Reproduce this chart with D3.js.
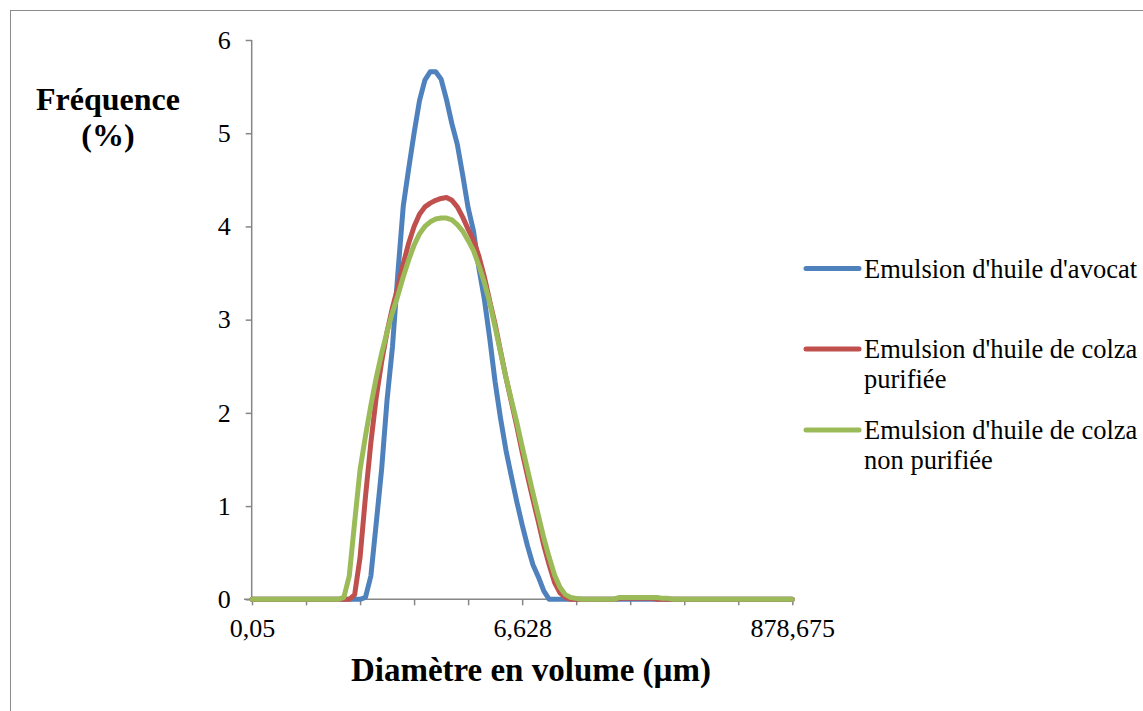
<!DOCTYPE html>
<html>
<head>
<meta charset="utf-8">
<script src="https://cdn.jsdelivr.net/npm/d3@7"></script>
<style>
  html, body { margin: 0; padding: 0; background: #fff; }
  svg { display: block; }
  text { font-family: "Liberation Serif", "Times New Roman", serif; fill: #000; }
</style>
</head>
<body>
<svg id="chart" width="1143" height="711"></svg>
<script>
// Size classes (101 points, log-spaced, shown as category positions)
const classCount = 101;
const tickLabelIndex = [0, 50, 100];
const tickLabels = ["0,05", "6,628", "878,675"];
const yTicks = [0, 1, 2, 3, 4, 5, 6];

const seriesNames = [
  ["Emulsion d'huile d'avocat"],
  ["Emulsion d'huile de colza", "purifiée"],
  ["Emulsion d'huile de colza", "non purifiée"]
];
const seriesColors = ["#4F81BD", "#C0504D", "#9BBB59"];

// Volume frequency (%) per size class
const avocat = [
  0, 0, 0, 0, 0, 0, 0, 0, 0, 0,
  0, 0, 0, 0, 0, 0, 0, 0, 0, 0,
  0, 0.02, 0.25, 0.82, 1.40, 2.14, 2.71, 3.50, 4.22, 4.62,
  5.00, 5.35, 5.57, 5.66, 5.66, 5.58, 5.36, 5.10, 4.88, 4.55,
  4.20, 3.95, 3.55, 3.22, 2.80, 2.33, 1.94, 1.60, 1.32, 1.05,
  0.80, 0.57, 0.37, 0.24, 0.09, 0, 0, 0, 0, 0,
  0, 0, 0, 0, 0, 0, 0, 0, 0, 0,
  0, 0, 0, 0, 0, 0, 0, 0, 0, 0,
  0, 0, 0, 0, 0, 0, 0, 0, 0, 0,
  0, 0, 0, 0, 0, 0, 0, 0, 0, 0,
  0
];
const colzaPurifiee = [
  0, 0, 0, 0, 0, 0, 0, 0, 0, 0,
  0, 0, 0, 0, 0, 0, 0, 0, 0, 0.05,
  0.45, 1.10, 1.68, 2.17, 2.55, 2.87, 3.13, 3.35, 3.60, 3.82,
  4.00, 4.13, 4.21, 4.25, 4.28, 4.30, 4.31, 4.28, 4.21, 4.10,
  3.97, 3.85, 3.68, 3.46, 3.20, 2.95, 2.66, 2.38, 2.12, 1.86,
  1.58, 1.32, 1.07, 0.83, 0.58, 0.37, 0.18, 0.07, 0.02, 0,
  0, 0, 0, 0, 0, 0, 0, 0, 0.01, 0.01,
  0.01, 0.01, 0.01, 0.01, 0.01, 0, 0, 0, 0, 0,
  0, 0, 0, 0, 0, 0, 0, 0, 0, 0,
  0, 0, 0, 0, 0, 0, 0, 0, 0, 0,
  0
];
const colzaNonPurifiee = [
  0, 0, 0, 0, 0, 0, 0, 0, 0, 0,
  0, 0, 0, 0, 0, 0, 0, 0.02, 0.25, 0.83,
  1.39, 1.75, 2.08, 2.38, 2.64, 2.87, 3.08, 3.26, 3.46, 3.64,
  3.80, 3.92, 4.00, 4.05, 4.08, 4.09, 4.09, 4.07, 4.02, 3.95,
  3.85, 3.74, 3.58, 3.40, 3.18, 2.92, 2.65, 2.38, 2.14, 1.90,
  1.64, 1.39, 1.14, 0.90, 0.66, 0.45, 0.26, 0.13, 0.05, 0.02,
  0.01, 0, 0, 0, 0, 0, 0, 0, 0.02, 0.02,
  0.02, 0.02, 0.02, 0.02, 0.02, 0.02, 0.01, 0.01, 0, 0,
  0, 0, 0, 0, 0, 0, 0, 0, 0, 0,
  0, 0, 0, 0, 0, 0, 0, 0, 0, 0,
  0
];
const seriesValues = [avocat, colzaPurifiee, colzaNonPurifiee];

const svg = d3.select("#chart");
const axisColor = "#868686";
const serif = "Liberation Serif";

// Outer chart frame
svg.append("rect")
  .attr("x", 10.5).attr("y", 10.5)
  .attr("width", 1150).attr("height", 720)
  .attr("fill", "none").attr("stroke", "#8c8c8c").attr("stroke-width", 1);

const x = d3.scaleLinear().domain([0, classCount - 1]).range([252, 792.3]);
const y = d3.scaleLinear().domain([0, 6]).range([599.3, 40]);

// Y axis
const yAxis = svg.append("g")
  .attr("transform", "translate(251.7,0)")
  .call(d3.axisLeft(y).tickValues(yTicks).tickSize(6).tickPadding(15).tickFormat(d3.format("d")));
yAxis.select(".domain").attr("stroke", axisColor).attr("stroke-width", 1.5).attr("d", `M0,${y(6)}V${y(0)}`);
yAxis.selectAll(".tick line").attr("stroke", axisColor).attr("stroke-width", 1.5);
yAxis.selectAll(".tick text")
  .attr("font-family", serif).attr("font-size", 26).attr("fill", "#000");

// X axis: a tick mark every 10 classes, labels every 50
const labelFor = new Map(tickLabelIndex.map((d, i) => [d, tickLabels[i]]));
const xAxis = svg.append("g")
  .attr("transform", `translate(0,${y(0)})`)
  .call(d3.axisBottom(x).tickValues(d3.range(0, classCount, 10)).tickSize(6).tickPadding(13)
    .tickFormat(d => labelFor.get(d) || ""));
xAxis.select(".domain").attr("stroke", axisColor).attr("stroke-width", 1.5).attr("d", `M${x(0) - 8},0H${x(100)}`);
xAxis.selectAll(".tick line").attr("stroke", axisColor).attr("stroke-width", 1.5);
xAxis.selectAll(".tick text")
  .attr("font-family", serif).attr("font-size", 26).attr("fill", "#000");

// Series lines
const line = d3.line().x((d, i) => x(i)).y(d => y(d));
seriesValues.forEach((vals, k) => {
  svg.append("path")
    .datum(vals)
    .attr("d", line)
    .attr("fill", "none")
    .attr("stroke", seriesColors[k])
    .attr("stroke-width", 5)
    .attr("stroke-linejoin", "round")
    .attr("stroke-linecap", "round");
});

// Axis titles
const yTitle = svg.append("text")
  .attr("text-anchor", "middle")
  .attr("font-family", serif)
  .attr("font-size", 32).attr("font-weight", "bold");
yTitle.append("tspan").attr("x", 108).attr("y", 110).text("Fréquence");
yTitle.append("tspan").attr("x", 108).attr("y", 146).text("(%)");

svg.append("text")
  .attr("x", 531).attr("y", 681)
  .attr("text-anchor", "middle")
  .attr("font-family", serif)
  .attr("font-size", 33).attr("font-weight", "bold")
  .text("Diamètre en volume (µm)");

// Legend
const legendY = [268.5, 349, 430];
seriesNames.forEach((lines, k) => {
  const g = svg.append("g");
  g.append("line")
    .attr("x1", 806).attr("x2", 859)
    .attr("y1", legendY[k]).attr("y2", legendY[k])
    .attr("stroke", seriesColors[k]).attr("stroke-width", 5).attr("stroke-linecap", "round");
  const t = g.append("text").attr("font-family", serif).attr("font-size", 26.5);
  lines.forEach((s, j) => {
    t.append("tspan").attr("x", 864).attr("y", legendY[k] + 9 + j * 30).text(s);
  });
});
</script>
</body>
</html>
